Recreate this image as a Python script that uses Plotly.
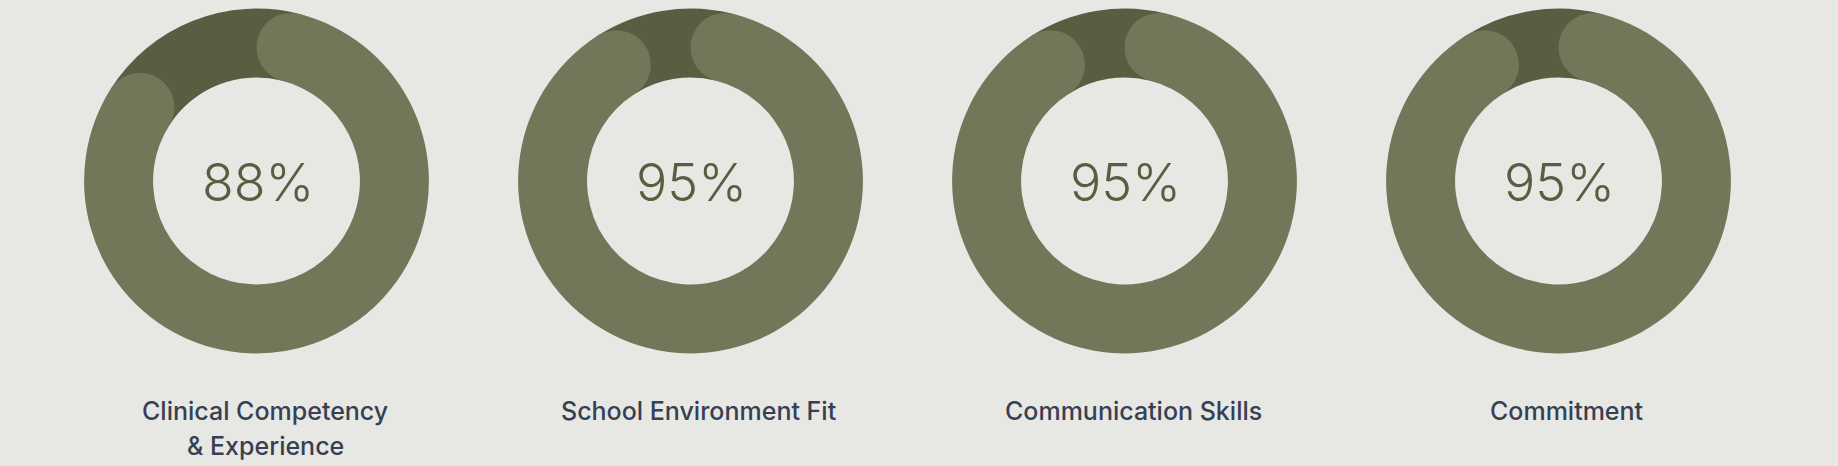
import math
import plotly.graph_objects as go

# ---- data ----
categories = ["Clinical Competency\n& Experience", "School Environment Fit",
              "Communication Skills", "Commitment"]
scores = [88, 95, 95, 95]
score_labels = ["88%", "95%", "95%", "95%"]

# ---- style / layout constants ----
W, H = 1838, 466
BG = "#e7e7e4"
ARC = "#737659"
TRACK = "#5a5d42"
PCT_COLOR = "#5a5d40"
LABEL_COLOR = "#364052"
centers_x = [256.5, 690.5, 1124.5, 1558.5]
center_y = 181.0
R_OUT = 172.4
HOLE = 0.6
R_IN = R_OUT * HOLE
R_MID = (R_OUT + R_IN) / 2
CAP_R = (R_OUT - R_IN) / 2
CAP_DEG = math.degrees(math.asin(CAP_R / R_MID))

fig = go.Figure()

# invisible trace to establish a pixel-space cartesian frame
fig.add_trace(go.Scatter(x=[0, W], y=[0, H], mode="markers",
                         marker=dict(opacity=0), hoverinfo="skip", showlegend=False))

shapes = []
annotations = []
for cat, val, lab, cx in zip(categories, scores, score_labels, centers_x):
    arc_deg = val * 3.6 - 2 * CAP_DEG
    fig.add_trace(go.Pie(
        values=[arc_deg, 360 - arc_deg],
        marker=dict(colors=[ARC, TRACK], line=dict(width=0)),
        hole=HOLE, sort=False, direction="clockwise", rotation=CAP_DEG,
        textinfo="none", hoverinfo="skip", showlegend=False,
        domain=dict(x=[(cx - R_OUT) / W, (cx + R_OUT) / W],
                    y=[(H - center_y - R_OUT) / H, (H - center_y + R_OUT) / H]),
    ))
    # rounded caps at both ends of the arc
    for ang in (CAP_DEG, val * 3.6 - CAP_DEG):
        a = math.radians(ang)
        px = cx + R_MID * math.sin(a)
        py = center_y - R_MID * math.cos(a)
        shapes.append(dict(type="circle", xref="x", yref="y", layer="above",
                           x0=px - CAP_R, x1=px + CAP_R, y0=py - CAP_R, y1=py + CAP_R,
                           fillcolor=ARC, line=dict(width=0)))
    annotations.append(dict(x=cx + 1, y=center_y + 1, xref="x", yref="y", text=lab,
                            showarrow=False, xanchor="center", yanchor="middle",
                            font=dict(family="Inter", size=52, color=PCT_COLOR, weight=300)))
    for i, line in enumerate(cat.split("\n")):
        annotations.append(dict(x=cx + 8.5, y=411 + i * 35, xref="x", yref="y", text=line,
                                showarrow=False, xanchor="center", yanchor="middle",
                                font=dict(family="Inter", size=25, color=LABEL_COLOR, weight=500)))

fig.update_layout(
    width=W, height=H,
    margin=dict(l=0, r=0, t=0, b=0),
    paper_bgcolor=BG, plot_bgcolor=BG,
    xaxis=dict(range=[0, W], visible=False, domain=[0, 1], fixedrange=True),
    yaxis=dict(range=[H, 0], visible=False, domain=[0, 1], fixedrange=True),
    shapes=shapes, annotations=annotations,
)

fig.write_html("out.html", config={"displayModeBar": False},
               post_script="document.body.style.margin='0';document.body.style.background='" + BG + "';")
